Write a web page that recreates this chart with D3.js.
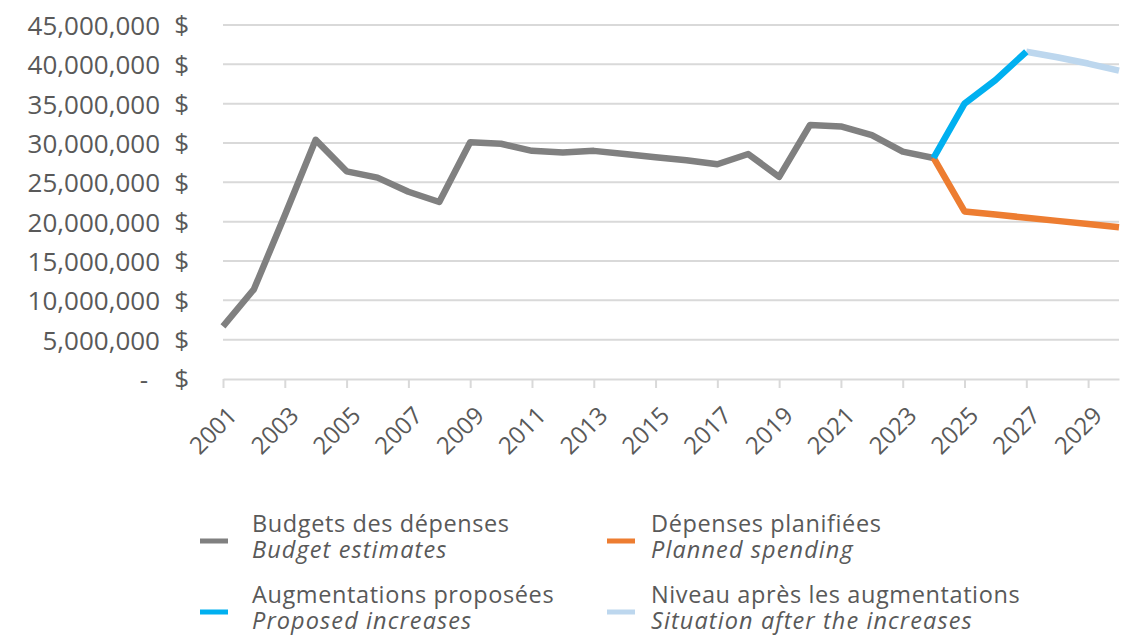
<!DOCTYPE html>
<html>
<head>
<meta charset="utf-8">
<script src="https://cdn.jsdelivr.net/npm/d3@7"></script>
<style>
  body { margin: 0; background: #fff; }
</style>
</head>
<body>
<div id="canvas"></div>
<script>
"use strict"

let svgWidth = 1130
let svgHeight = 641

/* categories */
let years = [2001, 2002, 2003, 2004, 2005, 2006, 2007, 2008, 2009, 2010,
    2011, 2012, 2013, 2014, 2015, 2016, 2017, 2018, 2019, 2020,
    2021, 2022, 2023, 2024, 2025, 2026, 2027, 2028, 2029, 2030]
let tickYears = [2001, 2003, 2005, 2007, 2009, 2011, 2013, 2015, 2017, 2019,
    2021, 2023, 2025, 2027, 2029]
let yTicks = [0, 5000000, 10000000, 15000000, 20000000, 25000000,
    30000000, 35000000, 40000000, 45000000]

/* series values (millions of $) */
let budgetYears = [2001, 2002, 2003, 2004, 2005, 2006, 2007, 2008, 2009, 2010,
    2011, 2012, 2013, 2014, 2015, 2016, 2017, 2018, 2019, 2020,
    2021, 2022, 2023, 2024]
let budgetValues = [6.7, 11.4, 20.8, 30.4, 26.4, 25.6, 23.8, 22.5, 30.1, 29.9,
    29.0, 28.8, 29.0, 28.6, 28.2, 27.8, 27.3, 28.6, 25.7, 32.3,
    32.1, 31.0, 28.9, 28.1]
let plannedYears = [2024, 2025, 2026, 2027, 2028, 2029, 2030]
let plannedValues = [28.1, 21.3, 20.9, 20.5, 20.1, 19.7, 19.3]
let proposedYears = [2024, 2025, 2026, 2027]
let proposedValues = [28.1, 35.0, 38.0, 41.6]
let afterYears = [2027, 2028, 2029, 2030]
let afterValues = [41.6, 40.9, 40.1, 39.2]

let seriesNames = ["Budgets des dépenses", "Dépenses planifiées",
    "Augmentations proposées", "Niveau après les augmentations"]
let seriesNamesEn = ["Budget estimates", "Planned spending",
    "Proposed increases", "Situation after the increases"]
let seriesColors = ["#808080", "#ed7d31", "#00b0f0", "#bdd7ee"]

let textColor = "#595959"
let gridColor = "#d9d9d9"
let font = "'Open Sans', 'Noto Sans', sans-serif"

let svg = d3.select("#canvas")
    .append("svg")
    .attr("width", svgWidth)
    .attr("height", svgHeight)
    .style("font-family", font)

/* plot area */
let plot = { left: 223, right: 1119, top: 25, bottom: 379 }

let xScale = d3.scalePoint()
    .domain(years)
    .range([plot.left, plot.right])

let yScale = d3.scaleLinear()
    .domain([0, 45000000])
    .range([plot.bottom, plot.top])

/* gridlines */
svg.append("g")
    .selectAll("line")
    .data(yTicks.filter(d => d > 0))
    .join("line")
    .attr("x1", plot.left)
    .attr("x2", plot.right)
    .attr("y1", d => yScale(d))
    .attr("y2", d => yScale(d))
    .attr("stroke", gridColor)
    .attr("stroke-width", 2)

/* y axis labels: number and $ sign kept apart like an accounting format */
let yAxis = svg.append("g")
    .attr("transform", `translate(160,0)`)
    .call(d3.axisLeft(yScale)
        .tickValues(yTicks)
        .tickSize(0)
        .tickPadding(0)
        .tickFormat(d => d === 0 ? "-" : d3.format(",")(d)))
yAxis.select(".domain").remove()
yAxis.selectAll("text")
    .attr("x", d => d === 0 ? -12 : 0)
    .attr("dy", "0.36em")
    .style("font-family", font)
    .style("font-size", "26px")
    .attr("fill", textColor)

svg.append("g")
    .selectAll("text")
    .data(yTicks)
    .join("text")
    .attr("x", 189)
    .attr("y", d => yScale(d))
    .attr("dy", "0.36em")
    .attr("text-anchor", "end")
    .style("font-size", "26px")
    .attr("fill", textColor)
    .text("$")

/* x axis */
let xAxis = svg.append("g")
    .attr("transform", `translate(0,${plot.bottom})`)
    .call(d3.axisBottom(xScale)
        .tickValues(tickYears)
        .tickSize(9)
        .tickSizeOuter(0))
xAxis.select(".domain")
    .attr("stroke", gridColor)
    .attr("stroke-width", 2)
xAxis.selectAll(".tick line")
    .attr("stroke", gridColor)
    .attr("stroke-width", 2)
xAxis.selectAll(".tick text")
    .attr("x", 0)
    .attr("y", 0)
    .attr("dy", 0)
    .attr("text-anchor", "end")
    .attr("transform", "translate(15,38) rotate(-45)")
    .style("font-family", font)
    .style("font-size", "24px")
    .attr("fill", textColor)

/* lines */
let line = d3.line()
    .x(d => xScale(d[0]))
    .y(d => yScale(d[1] * 1000000))

let seriesData = [
    d3.zip(budgetYears, budgetValues),
    d3.zip(plannedYears, plannedValues),
    d3.zip(proposedYears, proposedValues),
    d3.zip(afterYears, afterValues)
]
/* draw order: gray, orange, light blue, blue on top */
let drawOrder = [0, 1, 3, 2]
drawOrder.forEach(function(i) {
    svg.append("path")
        .datum(seriesData[i])
        .attr("d", line)
        .attr("fill", "none")
        .attr("stroke", seriesColors[i])
        .attr("stroke-width", 6.5)
        .attr("stroke-linejoin", "round")
})

/* legend */
let swatchX = [200, 607]
let labelX = [252, 651]
let legendY = [541, 612]
for (let i = 0; i < 4; i++) {
    let col = i % 2
    let ly = legendY[Math.floor(i / 2)]
    svg.append("rect")
        .attr("x", swatchX[col])
        .attr("y", ly - 2.5)
        .attr("width", 28)
        .attr("height", 5)
        .attr("fill", seriesColors[i])
    svg.append("text")
        .attr("x", labelX[col])
        .attr("y", ly - 9)
        .style("font-size", "23.5px")
        .style("letter-spacing", "0.6px")
        .attr("fill", textColor)
        .text(seriesNames[i])
    svg.append("text")
        .attr("x", labelX[col])
        .attr("y", ly + 17)
        .style("font-size", "23.5px")
        .style("font-style", "italic")
        .style("letter-spacing", "1.1px")
        .attr("fill", textColor)
        .text(seriesNamesEn[i])
}
</script>
</body>
</html>
